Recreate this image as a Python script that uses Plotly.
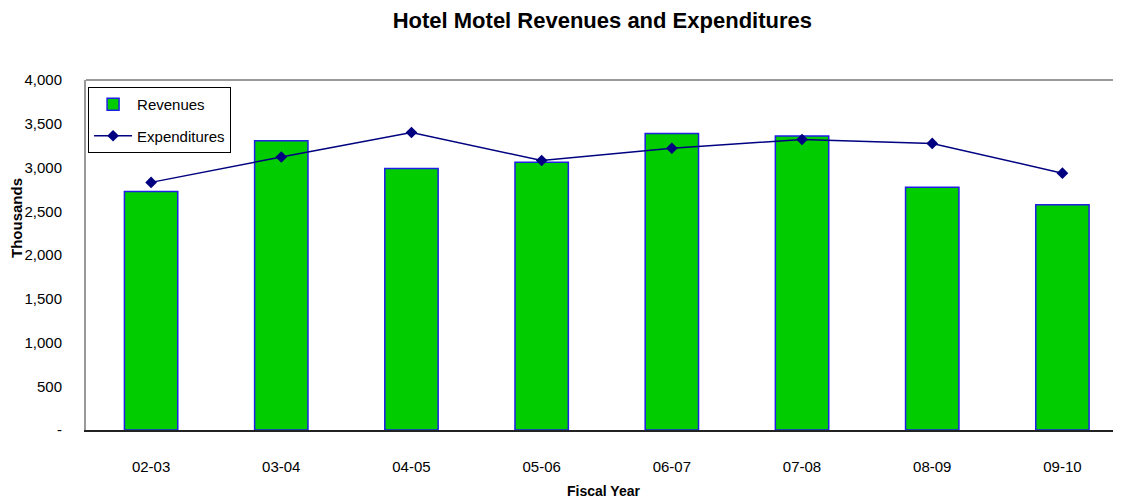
import plotly.graph_objects as go

years = ["02-03", "03-04", "04-05", "05-06", "06-07", "07-08", "08-09", "09-10"]
revenues = [2725, 3305, 2990, 3060, 3390, 3360, 2775, 2575]
expenditures = [2830, 3120, 3400, 3080, 3220, 3320, 3275, 2935]
ytick_vals = [0, 500, 1000, 1500, 2000, 2500, 3000, 3500, 4000]
ytick_text = ["-", "500", "1,000", "1,500", "2,000", "2,500", "3,000", "3,500", "4,000"]

W, H = 1113, 494  # page body has an 8px margin
fig = go.Figure()
fig.add_trace(go.Bar(
    x=years, y=revenues, name="Revenues", legendgroup="a",
    marker=dict(color="#00CC00", line=dict(color="#1F1FE6", width=1.5)),
    width=0.41,
))
fig.add_trace(go.Scatter(
    x=years, y=expenditures, name="Expenditures", legendgroup="b",
    mode="lines+markers",
    line=dict(color="#000080", width=1.5),
    marker=dict(symbol="diamond", size=9, color="#000080"),
))

font = "Liberation Sans, Arial, sans-serif"
fig.update_layout(
    width=W, height=H,
    margin=dict(l=78, r=0, t=72, b=72, autoexpand=False),
    paper_bgcolor="white", plot_bgcolor="white",
    font=dict(family=font, size=15, color="black"),
    title=dict(text="<b>Hotel Motel Revenues and Expenditures</b>", x=0.534, xanchor="center",
               y=0.976, yanchor="middle", font=dict(size=22, family=font, color="black"),
               automargin=False),
    showlegend=True,
    legend=dict(x=0.002, y=0.98, xanchor="left", yanchor="top",
                bordercolor="black", borderwidth=1, bgcolor="white",
                traceorder="grouped", tracegroupgap=9, itemwidth=38,
                font=dict(size=15, family=font)),
    bargap=0.59,
)
fig.update_xaxes(
    type="category", automargin=False,
    range=[-0.5, 7.45], showgrid=False, showline=True, linecolor="#222222", linewidth=2,
    ticks="", ticklabelstandoff=22, tickfont=dict(size=15),
    title=dict(text="<b>Fiscal Year</b>", font=dict(size=14), standoff=12),
)
fig.update_yaxes(
    automargin=False,
    range=[0, 4000], tickvals=ytick_vals, ticktext=ytick_text, showgrid=False,
    showline=True, linecolor="#999999", linewidth=2, ticks="", zeroline=False,
    ticklabelstandoff=19, tickfont=dict(size=15),
)
fig.add_annotation(text="<b>Thousands</b>", textangle=-90, showarrow=False,
                   xref="paper", yref="paper", x=(17 - 86) / 1035, y=(430 - 218) / 350,
                   xanchor="center", yanchor="middle", font=dict(size=15, family=font))
fig.add_shape(type="line", xref="paper", yref="paper", x0=0, x1=1, y0=1, y1=1,
              line=dict(color="#999999", width=2))
fig.write_html("out.html")
